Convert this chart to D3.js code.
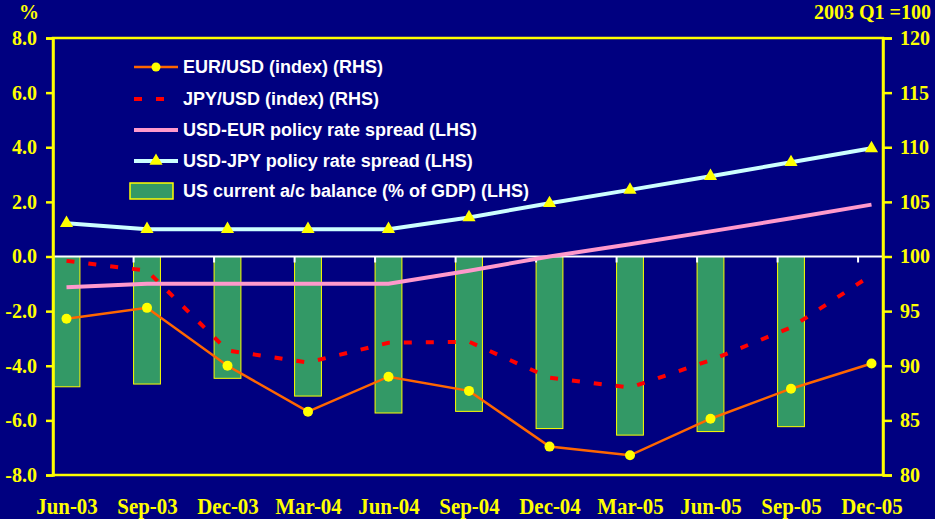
<!DOCTYPE html>
<html>
<head>
<meta charset="utf-8">
<script src="https://cdn.jsdelivr.net/npm/d3@7"></script>
<style>
html,body{margin:0;padding:0;background:#000080;}
svg{display:block;}
</style>
</head>
<body>
<svg id="chart" width="935" height="519"></svg>
<script>
// ---- data ----
const categories = ["Jun-03","Sep-03","Dec-03","Mar-04","Jun-04","Sep-04","Dec-04","Mar-05","Jun-05","Sep-05","Dec-05"];
const currentAccount = [-4.77,-4.67,-4.46,-5.11,-5.73,-5.67,-6.30,-6.54,-6.41,-6.23,null]; // LHS
const usdEurSpread = [-1.13,-1.0,-1.0,-1.0,-1.0,-0.52,0.0,0.45,0.92,1.4,1.9]; // LHS
const usdJpySpread = [1.22,1.0,1.0,1.0,1.0,1.43,1.95,2.44,2.94,3.45,3.96]; // LHS
const eurUsd = [94.3,95.3,90.0,85.8,89.0,87.7,82.6,81.8,85.15,87.9,90.2]; // RHS
const jpyUsd = [99.6,98.7,91.4,90.3,92.1,92.2,88.9,88.0,90.5,93.5,98.3]; // RHS
const leftTicks = [-8,-6,-4,-2,0,2,4,6,8];
const rightTicks = [80,85,90,95,100,105,110,115,120];
const legendLabels = ["EUR/USD (index) (RHS)","JPY/USD (index) (RHS)","USD-EUR policy rate spread (LHS)","USD-JPY policy rate spread (LHS)","US current a/c balance (% of GDP) (LHS)"];

// ---- layout ----
const svg = d3.select("#chart");
const L = 53, R = 883, T = 38, B = 475;
const YEL = "#FFFF00", SERIF = "'Liberation Serif','Times New Roman',serif", SANS = "'Liberation Sans',Arial,sans-serif";

const x = d3.scalePoint().domain(categories).range([66.5, 871.5]);
const step = x.step();
const barW = step / 3;
const yL = d3.scaleLinear().domain([-8, 8]).range([B, T]);
const yR = d3.scaleLinear().domain([80, 120]).range([B, T]);

svg.append("rect").attr("width",935).attr("height",519).attr("fill","#000080");

// bars
svg.append("g").selectAll("rect")
  .data(categories.map((c,i)=>({c, v: currentAccount[i]})).filter(d=>d.v!==null))
  .join("rect")
  .attr("x", d => x(d.c) - barW/2)
  .attr("width", barW)
  .attr("y", yL(0))
  .attr("height", d => yL(d.v) - yL(0))
  .attr("fill", "#339966")
  .attr("stroke", YEL).attr("stroke-width", 1);

// zero line with category tick marks
svg.append("line").attr("x1", L-1).attr("x2", R).attr("y1", yL(0)).attr("y2", yL(0))
  .attr("stroke", "#fff").attr("stroke-width", 2);
svg.append("g").selectAll("line").data(categories).join("line")
  .attr("x1", d => x(d) - barW/2).attr("x2", d => x(d) - barW/2)
  .attr("y1", yL(0)).attr("y2", yL(0) + 6)
  .attr("stroke", "#fff").attr("stroke-width", 2);

// plot frame
svg.append("rect").attr("x", L).attr("y", T).attr("width", R-L).attr("height", B-T)
  .attr("fill","none").attr("stroke", YEL).attr("stroke-width", 2.5);

// left axis
const fmtL = d => d3.format(".1f")(d).replace("\u2212", "-");
const axL = d3.axisLeft(yL).tickValues(leftTicks).tickSize(7).tickPadding(9).tickFormat(fmtL);
const gL = svg.append("g").attr("transform", `translate(${L},0)`).call(axL);
gL.select(".domain").attr("stroke", YEL).attr("stroke-width", 2.5);
gL.selectAll(".tick line").attr("stroke", YEL).attr("stroke-width", 2.5);
gL.selectAll(".tick text").attr("fill", YEL).attr("font-family", SERIF).attr("font-weight","bold").attr("font-size", 20);

// right axis
const axR = d3.axisRight(yR).tickValues(rightTicks).tickSize(9).tickPadding(8).tickFormat(d3.format("d"));
const gR = svg.append("g").attr("transform", `translate(${R},0)`).call(axR);
gR.select(".domain").attr("stroke", YEL).attr("stroke-width", 2.5);
gR.selectAll(".tick line").attr("stroke", YEL).attr("stroke-width", 2.5);
gR.selectAll(".tick text").attr("fill", YEL).attr("font-family", SERIF).attr("font-weight","bold").attr("font-size", 20);

// bottom labels
const axB = d3.axisBottom(x).tickSize(0).tickPadding(22);
const gB = svg.append("g").attr("transform", `translate(0,${B})`).call(axB);
gB.select(".domain").remove();
gB.selectAll(".tick text").attr("fill", YEL).attr("font-family", SERIF).attr("font-weight","bold").attr("font-size", 24)
  .attr("transform", "scale(0.87,1)");

// axis titles
svg.append("text").attr("x", 29).attr("y", 19).attr("text-anchor","middle")
  .attr("fill", YEL).attr("font-family", SERIF).attr("font-weight","bold").attr("font-size", 20).text("%");
svg.append("text").attr("x", 931).attr("y", 19).attr("text-anchor","end")
  .attr("fill", YEL).attr("font-family", SERIF).attr("font-weight","bold").attr("font-size", 20).text("2003 Q1 =100");

// lines
const lineL = d3.line().defined(d=>d.v!==null).x(d=>x(d.c)).y(d=>yL(d.v));
const lineR = d3.line().defined(d=>d.v!==null).x(d=>x(d.c)).y(d=>yR(d.v));
const pts = arr => categories.map((c,i)=>({c, v: arr[i]}));

svg.append("path").datum(pts(jpyUsd)).attr("d", lineR)
  .attr("fill","none").attr("stroke","#FF0000").attr("stroke-width",4).attr("stroke-dasharray","8,14");
svg.append("path").datum(pts(usdEurSpread)).attr("d", lineL)
  .attr("fill","none").attr("stroke","#FF99CC").attr("stroke-width",4);
svg.append("path").datum(pts(usdJpySpread)).attr("d", lineL)
  .attr("fill","none").attr("stroke","#CCFFFF").attr("stroke-width",4);
svg.append("path").datum(pts(eurUsd)).attr("d", lineR)
  .attr("fill","none").attr("stroke","#FF6600").attr("stroke-width",2.5);

const tri = d3.symbol().type(d3.symbolTriangle).size(75);
svg.append("g").selectAll("path").data(pts(usdJpySpread)).join("path")
  .attr("d", tri).attr("transform", d=>`translate(${x(d.c)},${yL(d.v)})`).attr("fill", YEL);
svg.append("g").selectAll("circle").data(pts(eurUsd)).join("circle")
  .attr("cx", d=>x(d.c)).attr("cy", d=>yR(d.v)).attr("r", 5).attr("fill", YEL);

// legend
const lg = svg.append("g");
const rowsY = [67, 99, 130, 161, 191];
const sx0 = 134, sx1 = 178, tx = 183;
lg.append("line").attr("x1",sx0).attr("x2",sx1).attr("y1",rowsY[0]).attr("y2",rowsY[0]).attr("stroke","#FF6600").attr("stroke-width",2.5);
lg.append("circle").attr("cx",(sx0+sx1)/2).attr("cy",rowsY[0]).attr("r",4.5).attr("fill",YEL);
lg.append("line").attr("x1",sx0).attr("x2",sx1).attr("y1",rowsY[1]).attr("y2",rowsY[1]).attr("stroke","#FF0000").attr("stroke-width",4).attr("stroke-dasharray","8,14");
lg.append("line").attr("x1",sx0).attr("x2",sx1).attr("y1",rowsY[2]).attr("y2",rowsY[2]).attr("stroke","#FF99CC").attr("stroke-width",4);
lg.append("line").attr("x1",sx0).attr("x2",sx1).attr("y1",rowsY[3]).attr("y2",rowsY[3]).attr("stroke","#CCFFFF").attr("stroke-width",4);
lg.append("path").attr("d",tri).attr("transform",`translate(${(sx0+sx1)/2},${rowsY[3]})`).attr("fill",YEL);
lg.append("rect").attr("x",130).attr("y",rowsY[4]-8).attr("width",43).attr("height",16).attr("fill","#339966").attr("stroke",YEL).attr("stroke-width",1.5);
lg.selectAll("text").data(legendLabels).join("text")
  .attr("x", tx).attr("y", (d,i)=>rowsY[i]).attr("dy","0.36em")
  .attr("fill","#fff").attr("font-family",SANS).attr("font-weight","bold").attr("font-size",18)
  .text(d=>d);
</script>
</body>
</html>
